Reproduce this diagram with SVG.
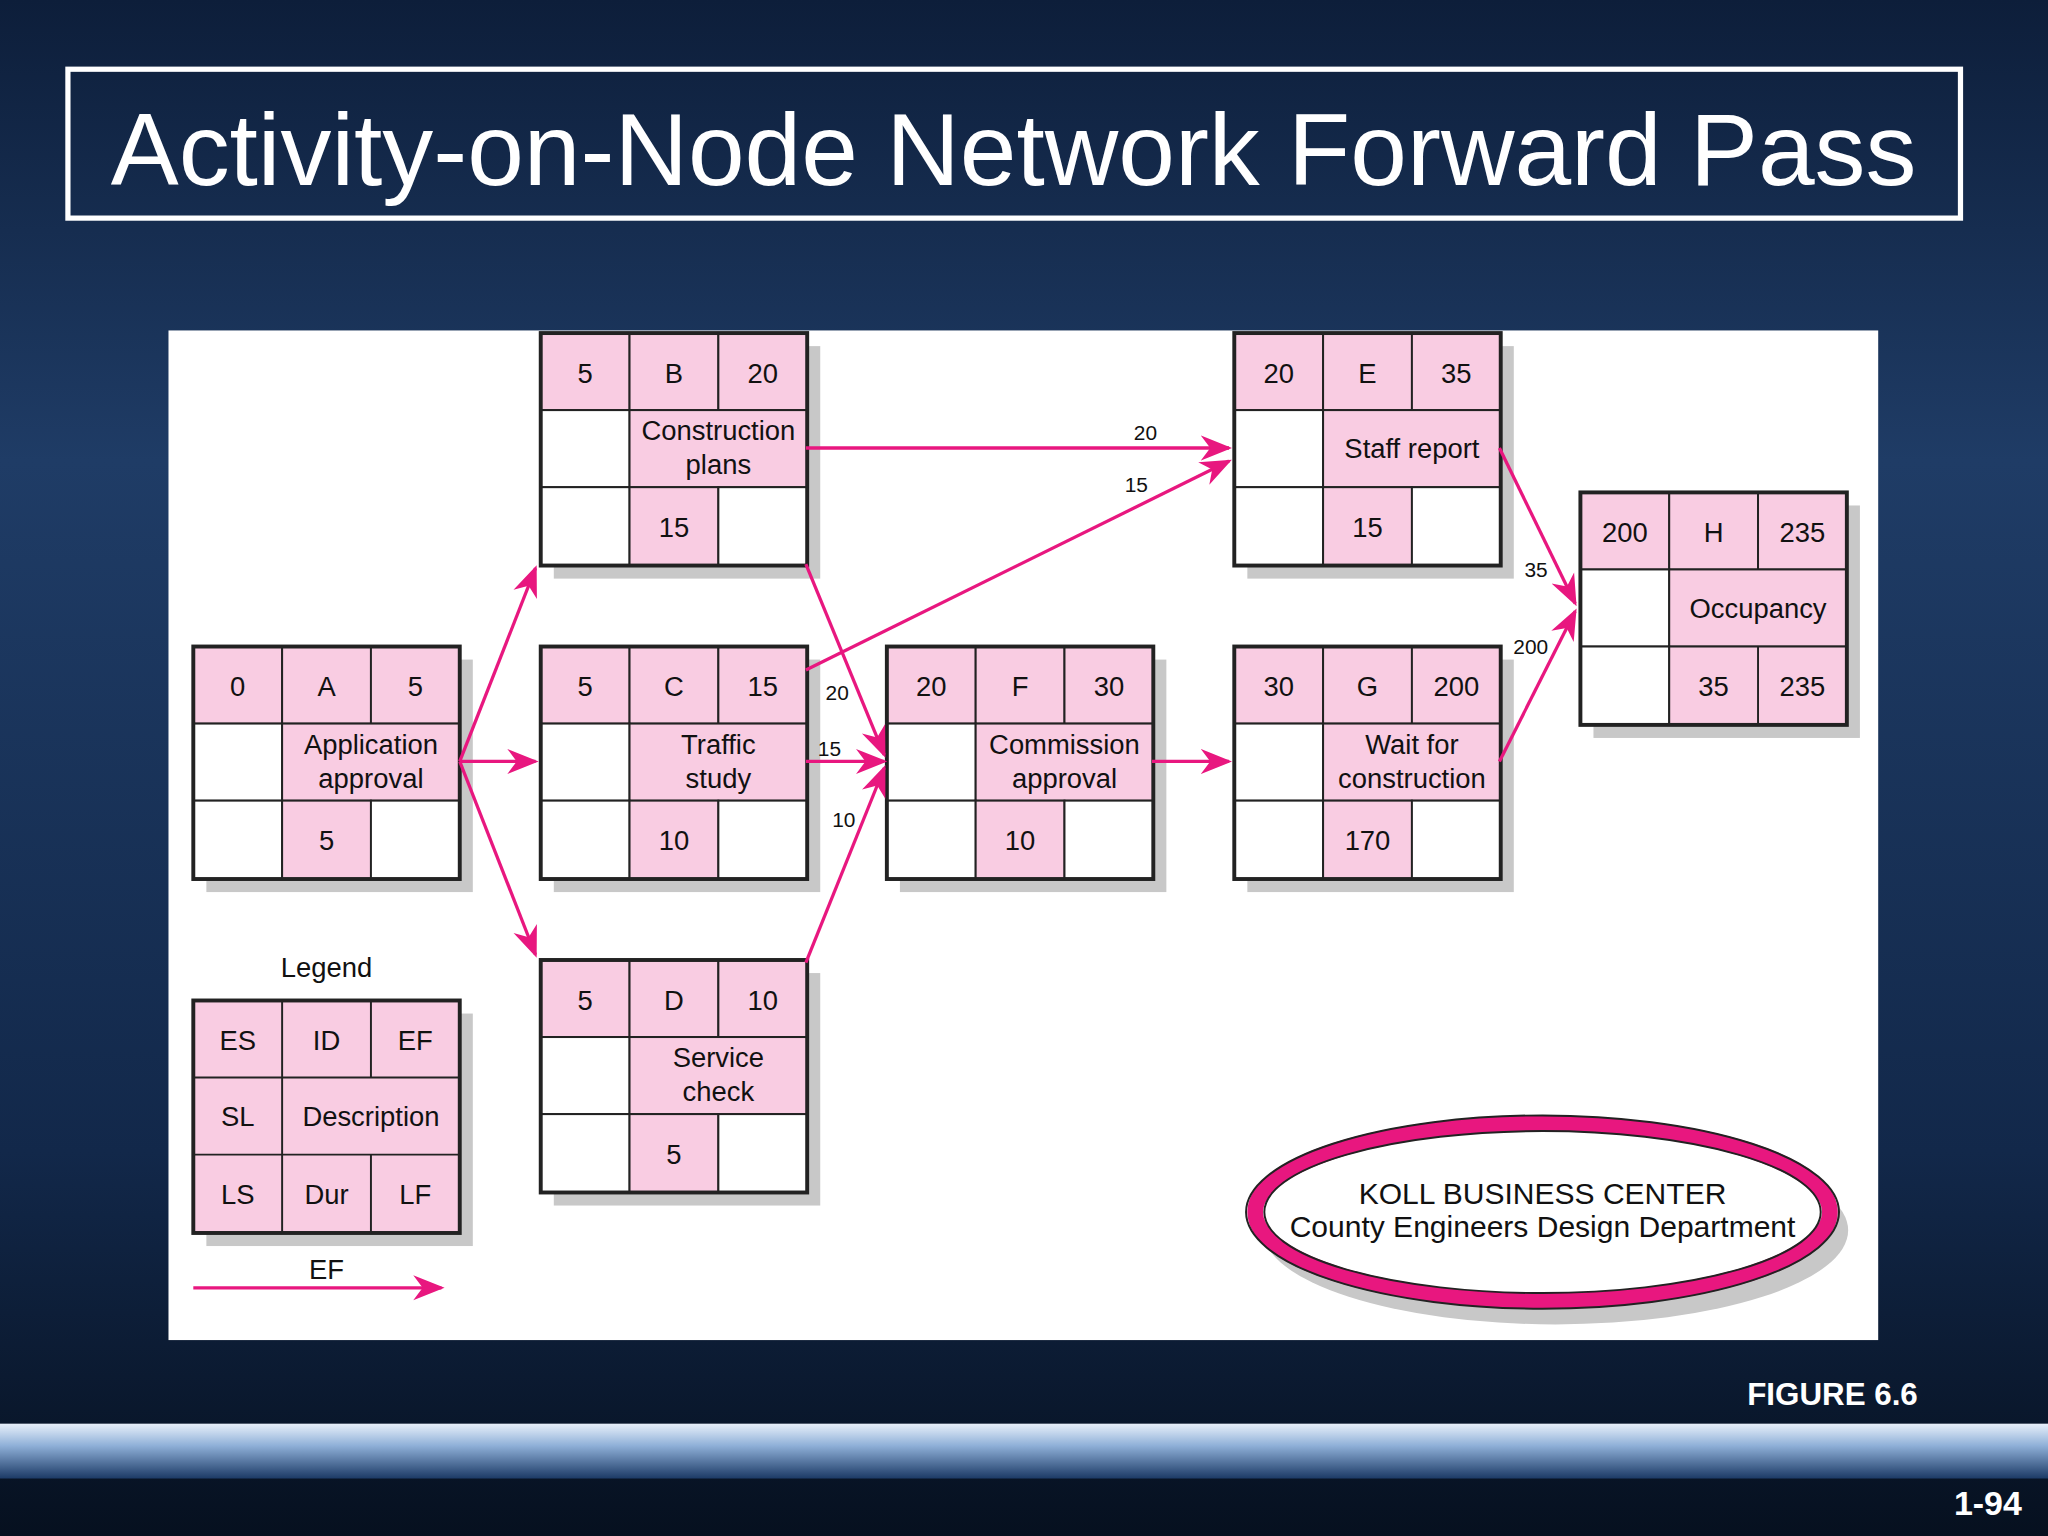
<svg xmlns="http://www.w3.org/2000/svg" width="2048" height="1536" viewBox="0 0 2048 1536">
<defs>
<linearGradient id="bg" x1="0" y1="0" x2="0" y2="1">
<stop offset="0" stop-color="#0d1e3a"/><stop offset="0.3" stop-color="#1f3c66"/><stop offset="0.75" stop-color="#12284a"/><stop offset="1" stop-color="#06101f"/>
</linearGradient>
<linearGradient id="band" x1="0" y1="0" x2="0" y2="1">
<stop offset="0" stop-color="#e8f0fa"/><stop offset="0.4" stop-color="#8fb0d8"/><stop offset="1" stop-color="#1c3a66"/>
</linearGradient>
<marker id="ahs" viewBox="0 0 10 10" refX="9" refY="5" markerWidth="24" markerHeight="24" orient="auto" markerUnits="userSpaceOnUse">
<path d="M0,1 L10,5 L0,9 L3,5 z" fill="#e8177f"/>
</marker>
</defs>
<style>
.t{font-family:"Liberation Sans",Arial,sans-serif;font-size:21px;fill:#111;text-anchor:middle}
.s{font-family:"Liberation Sans",Arial,sans-serif;font-size:16px;fill:#111;text-anchor:middle}
.p{fill:#f9cce2;stroke:#222;stroke-width:1.5}
.w{fill:#fff;stroke:#222;stroke-width:1.5}
.o{fill:none;stroke:#222;stroke-width:3}
.sh{fill:#c8c8c8}
.c{stroke:#e8177f;stroke-width:2.5;fill:none}
</style>
<rect width="2048" height="1536" fill="url(#bg)"/>
<g transform="scale(1.30612)">
<rect x="52" y="53" width="1449" height="114" fill="none" stroke="#fff" stroke-width="4"/>
<text x="776" y="142" font-family="Liberation Sans,Arial,sans-serif" font-size="78" fill="#fff" text-anchor="middle">Activity-on-Node Network Forward Pass</text>
<rect x="129" y="253" width="1309" height="773" fill="#fff"/>

<g id="nodeA" transform="translate(148,495)">
<rect class="sh" x="10" y="10" width="204" height="178"/>
<rect class="p" x="0" y="0" width="68" height="59"/><rect class="p" x="68" y="0" width="68" height="59"/><rect class="p" x="136" y="0" width="68" height="59"/>
<rect class="w" x="0" y="59" width="68" height="59"/><rect class="p" x="68" y="59" width="136" height="59"/>
<rect class="w" x="0" y="118" width="68" height="60"/><rect class="p" x="68" y="118" width="68" height="60"/><rect class="w" x="136" y="118" width="68" height="60"/>
<rect class="o" x="0" y="0" width="204" height="178"/>
<text class="t" x="34" y="38">0</text><text class="t" x="102" y="38">A</text><text class="t" x="170" y="38">5</text>
<text class="t" x="136" y="82">Application</text><text class="t" x="136" y="108">approval</text>
<text class="t" x="102" y="156">5</text>
</g>
<g id="nodeB" transform="translate(414,255)">
<rect class="sh" x="10" y="10" width="204" height="178"/>
<rect class="p" x="0" y="0" width="68" height="59"/><rect class="p" x="68" y="0" width="68" height="59"/><rect class="p" x="136" y="0" width="68" height="59"/>
<rect class="w" x="0" y="59" width="68" height="59"/><rect class="p" x="68" y="59" width="136" height="59"/>
<rect class="w" x="0" y="118" width="68" height="60"/><rect class="p" x="68" y="118" width="68" height="60"/><rect class="w" x="136" y="118" width="68" height="60"/>
<rect class="o" x="0" y="0" width="204" height="178"/>
<text class="t" x="34" y="38">5</text><text class="t" x="102" y="38">B</text><text class="t" x="170" y="38">20</text>
<text class="t" x="136" y="82">Construction</text><text class="t" x="136" y="108">plans</text>
<text class="t" x="102" y="156">15</text>
</g>
<g id="nodeC" transform="translate(414,495)">
<rect class="sh" x="10" y="10" width="204" height="178"/>
<rect class="p" x="0" y="0" width="68" height="59"/><rect class="p" x="68" y="0" width="68" height="59"/><rect class="p" x="136" y="0" width="68" height="59"/>
<rect class="w" x="0" y="59" width="68" height="59"/><rect class="p" x="68" y="59" width="136" height="59"/>
<rect class="w" x="0" y="118" width="68" height="60"/><rect class="p" x="68" y="118" width="68" height="60"/><rect class="w" x="136" y="118" width="68" height="60"/>
<rect class="o" x="0" y="0" width="204" height="178"/>
<text class="t" x="34" y="38">5</text><text class="t" x="102" y="38">C</text><text class="t" x="170" y="38">15</text>
<text class="t" x="136" y="82">Traffic</text><text class="t" x="136" y="108">study</text>
<text class="t" x="102" y="156">10</text>
</g>
<g id="nodeD" transform="translate(414,735)">
<rect class="sh" x="10" y="10" width="204" height="178"/>
<rect class="p" x="0" y="0" width="68" height="59"/><rect class="p" x="68" y="0" width="68" height="59"/><rect class="p" x="136" y="0" width="68" height="59"/>
<rect class="w" x="0" y="59" width="68" height="59"/><rect class="p" x="68" y="59" width="136" height="59"/>
<rect class="w" x="0" y="118" width="68" height="60"/><rect class="p" x="68" y="118" width="68" height="60"/><rect class="w" x="136" y="118" width="68" height="60"/>
<rect class="o" x="0" y="0" width="204" height="178"/>
<text class="t" x="34" y="38">5</text><text class="t" x="102" y="38">D</text><text class="t" x="170" y="38">10</text>
<text class="t" x="136" y="82">Service</text><text class="t" x="136" y="108">check</text>
<text class="t" x="102" y="156">5</text>
</g>
<g id="nodeF" transform="translate(679,495)">
<rect class="sh" x="10" y="10" width="204" height="178"/>
<rect class="p" x="0" y="0" width="68" height="59"/><rect class="p" x="68" y="0" width="68" height="59"/><rect class="p" x="136" y="0" width="68" height="59"/>
<rect class="w" x="0" y="59" width="68" height="59"/><rect class="p" x="68" y="59" width="136" height="59"/>
<rect class="w" x="0" y="118" width="68" height="60"/><rect class="p" x="68" y="118" width="68" height="60"/><rect class="w" x="136" y="118" width="68" height="60"/>
<rect class="o" x="0" y="0" width="204" height="178"/>
<text class="t" x="34" y="38">20</text><text class="t" x="102" y="38">F</text><text class="t" x="170" y="38">30</text>
<text class="t" x="136" y="82">Commission</text><text class="t" x="136" y="108">approval</text>
<text class="t" x="102" y="156">10</text>
</g>
<g id="nodeE" transform="translate(945,255)">
<rect class="sh" x="10" y="10" width="204" height="178"/>
<rect class="p" x="0" y="0" width="68" height="59"/><rect class="p" x="68" y="0" width="68" height="59"/><rect class="p" x="136" y="0" width="68" height="59"/>
<rect class="w" x="0" y="59" width="68" height="59"/><rect class="p" x="68" y="59" width="136" height="59"/>
<rect class="w" x="0" y="118" width="68" height="60"/><rect class="p" x="68" y="118" width="68" height="60"/><rect class="w" x="136" y="118" width="68" height="60"/>
<rect class="o" x="0" y="0" width="204" height="178"/>
<text class="t" x="34" y="38">20</text><text class="t" x="102" y="38">E</text><text class="t" x="170" y="38">35</text>
<text class="t" x="136" y="96">Staff report</text>
<text class="t" x="102" y="156">15</text>
</g>
<g id="nodeG" transform="translate(945,495)">
<rect class="sh" x="10" y="10" width="204" height="178"/>
<rect class="p" x="0" y="0" width="68" height="59"/><rect class="p" x="68" y="0" width="68" height="59"/><rect class="p" x="136" y="0" width="68" height="59"/>
<rect class="w" x="0" y="59" width="68" height="59"/><rect class="p" x="68" y="59" width="136" height="59"/>
<rect class="w" x="0" y="118" width="68" height="60"/><rect class="p" x="68" y="118" width="68" height="60"/><rect class="w" x="136" y="118" width="68" height="60"/>
<rect class="o" x="0" y="0" width="204" height="178"/>
<text class="t" x="34" y="38">30</text><text class="t" x="102" y="38">G</text><text class="t" x="170" y="38">200</text>
<text class="t" x="136" y="82">Wait for</text><text class="t" x="136" y="108">construction</text>
<text class="t" x="102" y="156">170</text>
</g>
<g id="nodeH" transform="translate(1210,377)">
<rect class="sh" x="10" y="10" width="204" height="178"/>
<rect class="p" x="0" y="0" width="68" height="59"/><rect class="p" x="68" y="0" width="68" height="59"/><rect class="p" x="136" y="0" width="68" height="59"/>
<rect class="w" x="0" y="59" width="68" height="59"/><rect class="p" x="68" y="59" width="136" height="59"/>
<rect class="w" x="0" y="118" width="68" height="60"/><rect class="p" x="68" y="118" width="136" height="60"/>
<line x1="136" y1="118" x2="136" y2="178" stroke="#222" stroke-width="1.5"/>
<rect class="o" x="0" y="0" width="204" height="178"/>
<text class="t" x="34" y="38">200</text><text class="t" x="102" y="38">H</text><text class="t" x="170" y="38">235</text>
<text class="t" x="136" y="96">Occupancy</text>
<text class="t" x="102" y="156">35</text><text class="t" x="170" y="156">235</text>
</g>
<g id="legend" transform="translate(148,766)">
<text class="t" x="102" y="-18">Legend</text>
<rect class="sh" x="10" y="10" width="204" height="178"/>
<rect class="p" x="0" y="0" width="204" height="178"/>
<line x1="0" y1="59" x2="204" y2="59" stroke="#222" stroke-width="1.5"/><line x1="0" y1="118" x2="204" y2="118" stroke="#222" stroke-width="1.5"/>
<line x1="68" y1="0" x2="68" y2="178" stroke="#222" stroke-width="1.5"/>
<line x1="136" y1="0" x2="136" y2="59" stroke="#222" stroke-width="1.5"/><line x1="136" y1="118" x2="136" y2="178" stroke="#222" stroke-width="1.5"/>
<rect class="o" x="0" y="0" width="204" height="178"/>
<text class="t" x="34" y="38">ES</text><text class="t" x="102" y="38">ID</text><text class="t" x="170" y="38">EF</text>
<text class="t" x="34" y="96">SL</text><text class="t" x="136" y="96">Description</text>
<text class="t" x="34" y="156">LS</text><text class="t" x="102" y="156">Dur</text><text class="t" x="170" y="156">LF</text>
</g>

<g id="connectors">
<line class="c" x1="352" y1="583" x2="410" y2="435" marker-end="url(#ahs)"/>
<line class="c" x1="352" y1="583" x2="410" y2="583" marker-end="url(#ahs)"/>
<line class="c" x1="352" y1="583" x2="410" y2="731" marker-end="url(#ahs)"/>
<line class="c" x1="617" y1="343" x2="941" y2="343" marker-end="url(#ahs)"/>
<line class="c" x1="617" y1="513" x2="941" y2="353" marker-end="url(#ahs)"/>
<line class="c" x1="617" y1="432" x2="677" y2="578" marker-end="url(#ahs)"/>
<line class="c" x1="617" y1="583" x2="677" y2="583" marker-end="url(#ahs)"/>
<line class="c" x1="617" y1="737" x2="677" y2="588" marker-end="url(#ahs)"/>
<line class="c" x1="882" y1="583" x2="941" y2="583" marker-end="url(#ahs)"/>
<line class="c" x1="1148" y1="343" x2="1206" y2="462" marker-end="url(#ahs)"/>
<line class="c" x1="1148" y1="583" x2="1206" y2="468" marker-end="url(#ahs)"/>
<line class="c" x1="148" y1="986" x2="338" y2="986" marker-end="url(#ahs)"/>
<text class="s" x="877" y="337">20</text>
<text class="s" x="870" y="377">15</text>
<text class="s" x="641" y="536">20</text>
<text class="s" x="635" y="579">15</text>
<text class="s" x="646" y="633">10</text>
<text class="s" x="1176" y="442">35</text>
<text class="s" x="1172" y="501">200</text>
<text class="t" x="250" y="979">EF</text>
</g>

<g id="koll">
<ellipse cx="1191" cy="942" rx="224" ry="72" fill="#c8c8c8"/>
<ellipse cx="1181" cy="928" rx="220" ry="68" fill="#fff" stroke="#e8177f" stroke-width="12"/>
<ellipse cx="1181" cy="928" rx="213" ry="62" fill="none" stroke="#222" stroke-width="1.5"/>
<ellipse cx="1181" cy="928" rx="227" ry="74" fill="none" stroke="#222" stroke-width="1.5"/>
<text class="t" x="1181" y="922" style="font-size:23px">KOLL BUSINESS CENTER</text>
<text class="t" x="1181" y="947" style="font-size:23px">County Engineers Design Department</text>
</g>

<text x="1403" y="1076" font-family="Liberation Sans,Arial,sans-serif" font-weight="bold" font-size="24" fill="#fff" text-anchor="middle">FIGURE 6.6</text>
<rect x="0" y="1090" width="1568" height="42" fill="url(#band)"/>
<text x="1522" y="1160" font-family="Liberation Sans,Arial,sans-serif" font-weight="bold" font-size="26" fill="#fff" text-anchor="middle">1-94</text>
</g>
</svg>
